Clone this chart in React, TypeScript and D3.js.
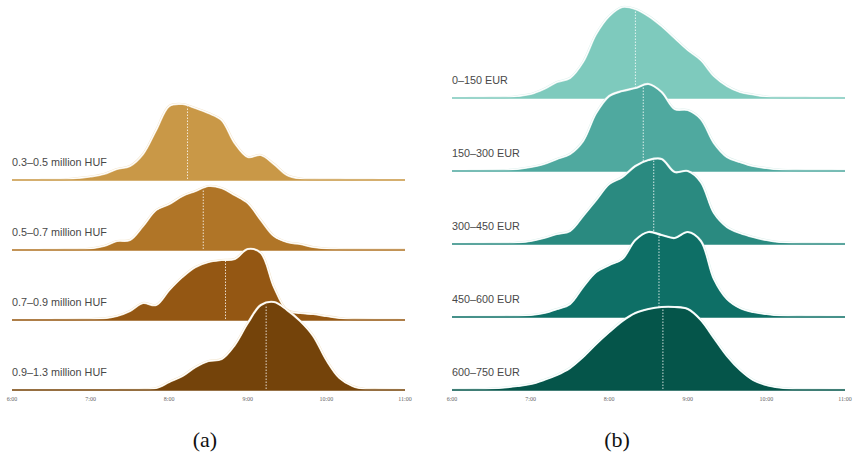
import React from "react";
import * as d3 from "d3";

// sample grid, minutes after midnight (6:00 – 11:00, every 10 min)
const sampleMinutes = [
	360, 370, 380, 390, 400, 410, 420, 430, 440, 450, 460, 470, 480, 490, 500, 510,
	520, 530, 540, 550, 560, 570, 580, 590, 600, 610, 620, 630, 640, 650, 660,
];

const tickMinutes = [360, 420, 480, 540, 600, 660];
const tickLabels = ["6:00", "7:00", "8:00", "9:00", "10:00", "11:00"];

// (a) income groups, HUF
const hufLabels = [
	"0.3–0.5 million HUF",
	"0.5–0.7 million HUF",
	"0.7–0.9 million HUF",
	"0.9–1.3 million HUF",
];
const hufColors = ["#c99847", "#b07527", "#945713", "#74430a"];
const hufMedians = [494, 506, 523, 554];
const huf1 = [0, 0, 0, 0.2, 0.5, 2, 3.5, 6, 11, 14, 26, 50, 74, 76, 72, 67, 60, 37, 23, 25, 16, 5, 1.5, 0.6, 0.3, 0.3, 0.2, 0.1, 0, 0, 0];
const huf2 = [0, 0, 0, 0.1, 0.3, 0.5, 1.5, 4, 9, 10, 24, 40, 46, 54, 59, 64, 62, 55, 47, 30, 14, 8, 6, 3, 1.5, 1, 0.6, 0.5, 0.5, 0.4, 0.3];
const huf3 = [0, 0, 0, 0, 0.2, 0.5, 1, 1.7, 4, 9, 17, 15, 30, 43, 53, 58, 60, 61, 71, 67, 33, 10, 7, 6, 4, 2, 0.8, 0.3, 0.2, 0.1, 0];
const huf4 = [0, 0, 0, 0, 0, 0, 0, 0, 0, 0.2, 0.5, 2, 8, 14, 23, 29, 31, 45, 67, 85, 88, 80, 69, 54, 30, 12, 4, 1, 0.5, 0.2, 0];

// (b) spending groups, EUR
const eurLabels = ["0–150 EUR", "150–300 EUR", "300–450 EUR", "450–600 EUR", "600–750 EUR"];
const eurColors = ["#7ecabd", "#4fa99f", "#2a8a80", "#0e6f66", "#05554a"];
const eurMedians = [500, 506, 514, 518, 521];
const eur1 = [0, 0, 0.1, 0.3, 0.6, 2, 4, 9, 16, 20, 36, 64, 82, 91, 89, 82, 72, 60, 48, 38, 22, 12, 6, 3.5, 1.5, 0.7, 0.4, 0.3, 0.2, 0.1, 0];
const eur2 = [0, 0, 0.1, 0.3, 0.8, 2, 4, 7, 12, 17, 30, 58, 75, 80, 83, 87, 79, 62, 61, 52, 28, 14, 9, 5, 3, 1.5, 0.8, 0.5, 0.4, 0.3, 0.2];
const eur3 = [0, 0, 0.1, 0.3, 0.6, 1.5, 3, 6, 10, 13, 28, 44, 60, 67, 78, 84, 85, 72, 73, 62, 31, 17, 11, 7, 4, 2, 1.2, 0.6, 0.3, 0.2, 0.1];
const eur4 = [0, 0, 0.1, 0.2, 0.5, 1, 2, 4, 8, 13, 30, 45, 52, 58, 77, 85, 82, 79, 85, 76, 38, 18, 9, 5, 3, 1.5, 1, 0.5, 0.3, 0.1, 0];
const eur5 = [0.2, 0.4, 0.8, 1.5, 2.5, 4, 6, 10, 15, 22, 33, 46, 58, 69, 77, 81, 83, 83, 81, 70, 52, 34, 20, 10, 5, 2.5, 1.2, 0.6, 0.3, 0.2, 0.1];

const hufSeries = [huf1, huf2, huf3, huf4];
const eurSeries = [eur1, eur2, eur3, eur4, eur5];

interface RidgeProps {
	series: number[][];
	labels: string[];
	colors: string[];
	medians: number[];
	x0: number;
	x1: number;
	top: number;
	step: number;
	glow: string;
}

const Ridges: React.FC<RidgeProps> = ({ series, labels, colors, medians, x0, x1, top, step, glow }) => {
	const x = d3.scaleLinear().domain([360, 660]).range([x0, x1]);
	const h = d3.scaleLinear().domain([0, 100]).range([0, 100]);
	const curve = d3.curveCatmullRom.alpha(0.5);

	const valueAt = (vals: number[], m: number) => {
		const i = d3.bisectRight(sampleMinutes, m) - 1;
		const t = (m - sampleMinutes[i]) / (sampleMinutes[i + 1] - sampleMinutes[i]);
		return d3.interpolateNumber(vals[i], vals[i + 1])(t);
	};

	return (
		<g>
			{series.map((vals, i) => {
				const base = top + i * step;
				const area = d3
					.area<number>()
					.x((_, j) => x(sampleMinutes[j]))
					.y0(base)
					.y1((d) => base - h(d))
					.curve(curve);
				const line = d3
					.line<number>()
					.x((_, j) => x(sampleMinutes[j]))
					.y((d) => base - h(d))
					.curve(curve);
				const med = medians[i];
				return (
					<g key={i}>
						<path d={area(vals) || ""} fill={colors[i]} />
						<path d={line(vals) || ""} fill="none" stroke={glow} strokeWidth={2.2} />
						<path d={line(vals) || ""} fill="none" stroke="#fff" strokeWidth={1.1} />
						<line x1={x0} x2={x1} y1={base} y2={base} stroke={colors[i]} strokeWidth={1.6} />
						<line
							x1={x(med)}
							x2={x(med)}
							y1={base - 1}
							y2={base - h(valueAt(vals, med)) + 1}
							stroke="#fff"
							strokeWidth={0.9}
							strokeDasharray="1.5,1.5"
							opacity={0.9}
						/>
					</g>
				);
			})}
			{labels.map((l, i) => (
				<text
					key={l}
					x={x0}
					y={top + i * step - 14}
					fontFamily="'Liberation Sans', sans-serif"
					fontSize={10.8}
					fill="#484848"
				>
					{l}
				</text>
			))}
			{tickMinutes.map((m, i) => (
				<text
					key={m}
					x={x(m)}
					y={top + (series.length - 1) * step + 11}
					textAnchor="middle"
					fontFamily="'Liberation Serif', serif"
					fontSize={6}
					fill="#666"
				>
					{tickLabels[i]}
				</text>
			))}
		</g>
	);
};

export default function App() {
	return (
		<svg
			width={857}
			height={453}
			style={{ position: "absolute", left: 0, top: 0, background: "#fff" }}
		>
			<Ridges
				series={hufSeries}
				labels={hufLabels}
				colors={hufColors}
				medians={hufMedians}
				x0={12}
				x1={405}
				top={180}
				step={70}
				glow="#f3e6cf"
			/>
			<Ridges
				series={eurSeries}
				labels={eurLabels}
				colors={eurColors}
				medians={eurMedians}
				x0={452}
				x1={845}
				top={98}
				step={73}
				glow="#dff1ee"
			/>
			<text x={205} y={447} textAnchor="middle" fontFamily="'Liberation Serif', serif" fontSize={22} fill="#111">
				(a)
			</text>
			<text x={617} y={447} textAnchor="middle" fontFamily="'Liberation Serif', serif" fontSize={22} fill="#111">
				(b)
			</text>
		</svg>
	);
}
